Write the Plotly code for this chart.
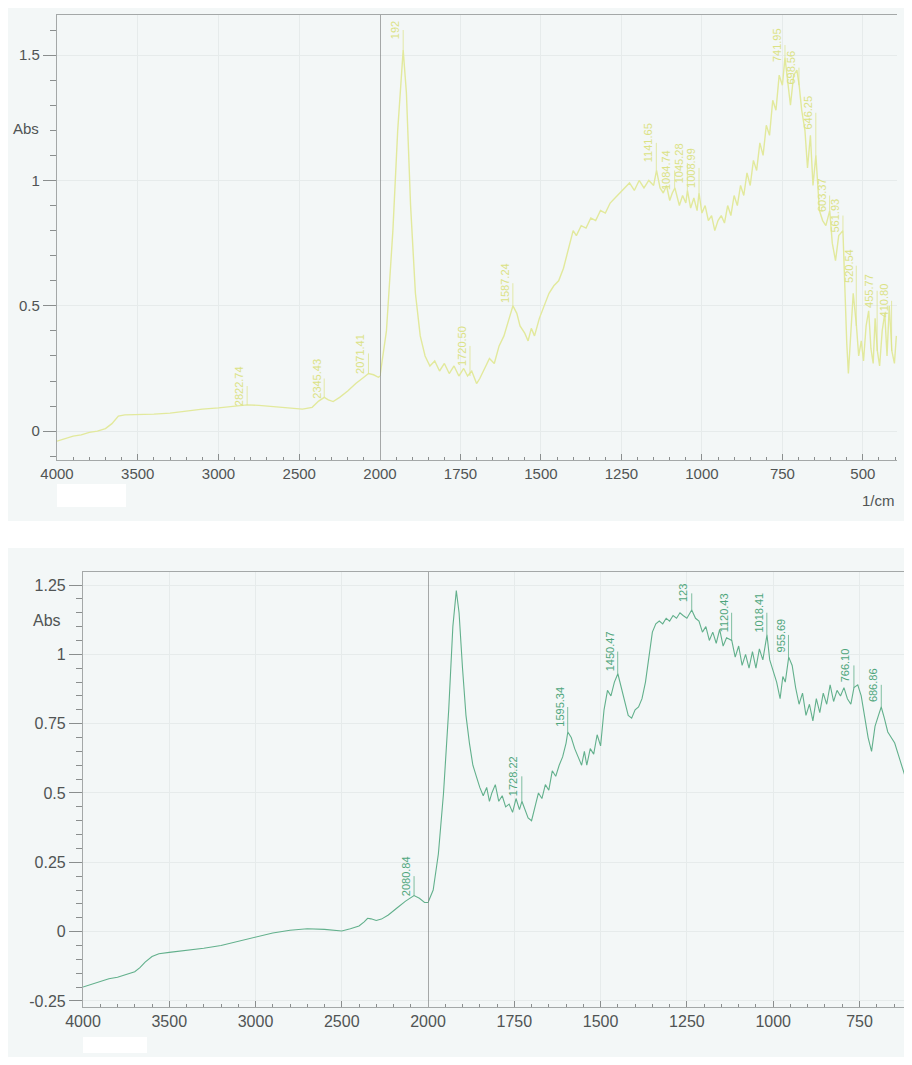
import plotly.graph_objects as go

# ---------------- data: upper spectrum (yellow) ----------------
top_wn = [4000, 3950, 3900, 3850, 3800, 3750, 3700, 3660, 3620, 3580, 3500, 3400, 3300, 3200, 3100, 3000,
          2900, 2822, 2750, 2650, 2550, 2480, 2420, 2380, 2345, 2320, 2290, 2250, 2200, 2150, 2100, 2071,
          2040, 2010, 2000, 1980, 1960, 1945, 1928, 1918, 1905, 1890, 1875, 1860, 1845, 1830, 1815, 1800,
          1785, 1770, 1755, 1740, 1728, 1715, 1700, 1690, 1675, 1660, 1645, 1630, 1615, 1600, 1587, 1575,
          1565, 1550, 1540, 1530, 1520, 1505, 1490, 1475, 1460, 1445, 1430, 1415, 1400, 1390, 1375, 1360,
          1345, 1330, 1315, 1300, 1285, 1270, 1255, 1240, 1225, 1210, 1195, 1180, 1165, 1150, 1141, 1130,
          1120, 1110, 1100, 1092, 1084, 1070, 1060, 1050, 1045, 1035, 1025, 1015, 1009, 1000, 990, 980,
          970, 960, 950, 940, 930, 920, 910, 900, 890, 880, 870, 860, 850, 840, 830, 820, 810, 800, 790,
          780, 770, 760, 750, 742, 735, 725, 715, 705, 698, 690, 680, 672, 663, 655, 646, 635, 625, 615,
          603, 595, 585, 575, 562, 556, 550, 545, 538, 530, 520, 513, 505, 498, 490, 482, 475, 468, 462,
          455, 448, 440, 432, 425, 418, 410, 402, 396]
top_abs = [-0.04, -0.03, -0.02, -0.015, -0.005, 0.0, 0.01, 0.03, 0.06, 0.065, 0.065, 0.068, 0.072, 0.08, 0.088, 0.093,
           0.1, 0.105, 0.103, 0.097, 0.09, 0.088, 0.095, 0.12, 0.135, 0.125, 0.118, 0.135, 0.16, 0.19, 0.215, 0.23,
           0.225, 0.215, 0.22, 0.4, 0.8, 1.2, 1.52, 1.35, 0.9, 0.55, 0.38, 0.3, 0.26, 0.28, 0.24, 0.27,
           0.23, 0.26, 0.22, 0.25, 0.22, 0.24, 0.19, 0.21, 0.25, 0.29, 0.27, 0.34, 0.38, 0.44, 0.5, 0.47,
           0.42, 0.39, 0.36, 0.41, 0.38, 0.45, 0.5, 0.55, 0.58, 0.6, 0.65, 0.72, 0.8, 0.78, 0.82, 0.81,
           0.85, 0.84, 0.88, 0.87, 0.91, 0.93, 0.95, 0.97, 0.99, 0.96, 1.0, 0.97, 1.0, 0.98, 1.04, 0.97,
           0.95, 0.98, 0.92, 0.95, 0.97, 0.9, 0.94, 0.91, 0.96, 0.89, 0.93, 0.88, 0.95, 0.87, 0.9, 0.84,
           0.86, 0.8, 0.84, 0.86, 0.83, 0.9, 0.86, 0.94, 0.9, 0.98, 0.94, 1.03, 0.98, 1.08, 1.04, 1.15, 1.1, 1.22, 1.18,
           1.32, 1.28, 1.42, 1.38, 1.49, 1.4, 1.3, 1.42, 1.44, 1.38, 1.28, 1.2, 1.05, 1.18, 0.98, 1.1, 0.88, 0.84, 0.82,
           0.88, 0.75, 0.68, 0.78, 0.8, 0.55, 0.35, 0.23, 0.4, 0.55, 0.42, 0.3, 0.36, 0.28, 0.42, 0.48, 0.33, 0.27, 0.45,
           0.32, 0.26, 0.4, 0.47, 0.3, 0.5, 0.32, 0.27, 0.38]

top_lbl_wn = [2822.74, 2345.43, 2071.41, 1928.0, 1720.50, 1587.24, 1141.65, 1084.74, 1045.28, 1008.99,
              741.95, 698.56, 646.25, 603.37, 561.93, 520.54, 455.77, 410.80]
top_lbl_text = ["2822.74", "2345.43", "2071.41", "192", "1720.50", "1587.24", "1141.65", "1084.74", "1045.28",
                "1008.99", "741.95", "698.56", "646.25", "603.37", "561.93", "520.54", "455.77", "410.80"]
top_lbl_peak = [0.105, 0.135, 0.23, 1.52, 0.22, 0.5, 1.04, 0.97, 0.96, 0.95,
                1.49, 1.38, 1.1, 0.88, 0.8, 0.42, 0.32, 0.32]
top_lbl_base = [0.18, 0.21, 0.31, 1.6, 0.34, 0.59, 1.15, 1.04, 1.07, 1.05,
                1.54, 1.45, 1.27, 0.94, 0.86, 0.66, 0.56, 0.52]

# ---------------- data: lower spectrum (green) ----------------
bot_wn = [4000, 3950, 3900, 3850, 3800, 3750, 3700, 3670, 3640, 3600, 3560, 3500, 3400, 3300, 3200, 3100,
          3000, 2900, 2800, 2700, 2600, 2500, 2450, 2400, 2370, 2350, 2330, 2300, 2270, 2230, 2180, 2130,
          2081, 2050, 2020, 2000, 1985, 1970, 1955, 1940, 1928, 1918, 1910, 1900, 1890, 1880, 1870, 1860,
          1850, 1840, 1830, 1822, 1815, 1805, 1795, 1785, 1775, 1765, 1755, 1745, 1735, 1728, 1720, 1710,
          1700, 1690, 1680, 1670, 1660, 1650, 1640, 1630, 1620, 1610, 1600, 1595, 1585, 1575, 1565, 1555,
          1547, 1540, 1530, 1520, 1510, 1500, 1490, 1480, 1470, 1460, 1450, 1440, 1430, 1420, 1410, 1400,
          1390, 1380, 1370, 1360, 1350, 1340, 1330, 1320, 1310, 1300, 1290, 1280, 1270, 1261, 1250, 1236,
          1225, 1215, 1205, 1195, 1185, 1175, 1165, 1155, 1145, 1135, 1120, 1110, 1100, 1090, 1080, 1070,
          1060, 1050, 1040, 1030, 1018, 1010, 1000, 990, 980, 972, 965, 955, 945, 935, 925, 915, 905, 895,
          885, 875, 865, 855, 845, 835, 825, 815, 805, 795, 785, 775, 766, 755, 745, 735, 725, 715, 705,
          695, 687, 678, 668, 658, 648, 638, 628, 618, 608, 598]
bot_abs = [-0.2, -0.19, -0.18, -0.17, -0.165, -0.155, -0.145, -0.13, -0.11, -0.09, -0.08, -0.075, -0.068, -0.06, -0.05, -0.035,
           -0.02, -0.005, 0.005, 0.01, 0.008, 0.002, 0.01, 0.02, 0.035, 0.048, 0.046, 0.04, 0.045, 0.06, 0.085, 0.11,
           0.13, 0.12, 0.105, 0.105, 0.15, 0.28, 0.5, 0.8, 1.1, 1.23, 1.15, 0.95, 0.78, 0.68, 0.6, 0.56,
           0.52, 0.49, 0.52, 0.47, 0.5, 0.53, 0.47, 0.49, 0.45, 0.46, 0.43, 0.48, 0.44, 0.47, 0.44, 0.41,
           0.4, 0.45, 0.5, 0.48, 0.53, 0.51, 0.58, 0.56, 0.6, 0.63, 0.68, 0.72, 0.7, 0.66, 0.63, 0.6,
           0.65, 0.6, 0.66, 0.64, 0.71, 0.67, 0.8, 0.87, 0.85, 0.9, 0.93, 0.88, 0.83, 0.78, 0.77, 0.8,
           0.81, 0.84, 0.9, 1.0, 1.08, 1.11, 1.12, 1.11, 1.13, 1.12, 1.14, 1.13, 1.15, 1.14, 1.13, 1.16,
           1.13, 1.12, 1.08, 1.1, 1.05, 1.08, 1.04, 1.09, 1.03, 1.06, 1.05, 0.99, 1.03, 0.96, 1.0, 0.95,
           1.01, 0.95, 1.02, 0.98, 1.07, 0.98, 0.94, 0.9, 0.84, 0.92, 0.9, 0.99, 0.96, 0.88, 0.82, 0.86, 0.78, 0.82,
           0.76, 0.84, 0.79, 0.86, 0.82, 0.89, 0.83, 0.87, 0.85, 0.88, 0.84, 0.82, 0.88, 0.89, 0.85, 0.78, 0.7, 0.65, 0.74,
           0.78, 0.81, 0.77, 0.72, 0.7, 0.68, 0.64, 0.6, 0.56, 0.6, 0.62]

bot_lbl_wn = [2080.84, 1728.22, 1595.34, 1450.47, 1236.0, 1120.43, 1018.41, 955.69, 766.10, 686.86]
bot_lbl_text = ["2080.84", "1728.22", "1595.34", "1450.47", "123", "1120.43", "1018.41", "955.69", "766.10", "686.86"]
bot_lbl_peak = [0.13, 0.47, 0.72, 0.93, 1.16, 1.05, 1.07, 0.99, 0.88, 0.81]
bot_lbl_base = [0.20, 0.56, 0.81, 1.01, 1.22, 1.15, 1.15, 1.07, 0.96, 0.89]

x_left_ticks = [4000, 3500, 3000, 2500, 2000]
x_right_ticks_top = [1750, 1500, 1250, 1000, 750, 500]
x_right_ticks_bot = [1750, 1500, 1250, 1000, 750]
y_ticks_top = [0, 0.5, 1, 1.5]
y_text_top = ["0", "0.5", "1", "1.5"]
y_ticks_bot = [-0.25, 0, 0.25, 0.5, 0.75, 1, 1.25]
y_text_bot = ["-0.25", "0", "0.25", "0.5", "0.75", "1", "1.25"]

# ---------------- figure ----------------
PAGE_W, PAGE_H = 912, 1065
OFF = 8  # browser body margin
W, H = PAGE_W - 2 * OFF, PAGE_H - 2 * OFF
TOP_COLOR = "#e2e99c"
TOP_LBL = "#dbe285"
BOT_COLOR = "#62b08c"
BOT_LBL = "#4fa67c"
BG = "#f3f7f7"
FRAME = "#a4a8a8"
TICKC = "#8a8e8e"
TXT = "#505454"
FONT = "Liberation Sans, Arial, sans-serif"


def px(x):
    return (x - OFF) / W


def py(y):
    return 1 - (y - OFF) / H


def split(wn, ab):
    left = [(w, a) for w, a in zip(wn, ab) if w >= 2000]
    right = [(w, a) for w, a in zip(wn, ab) if w <= 2000]
    return left, right


fig = go.Figure()

tl, tr = split(top_wn, top_abs)
bl, br = split(bot_wn, bot_abs)
fig.add_trace(go.Scatter(x=[p[0] for p in tl], y=[p[1] for p in tl], xaxis="x", yaxis="y",
                         mode="lines", line=dict(color=TOP_COLOR, width=1.4), showlegend=False))
fig.add_trace(go.Scatter(x=[p[0] for p in tr], y=[p[1] for p in tr], xaxis="x2", yaxis="y",
                         mode="lines", line=dict(color=TOP_COLOR, width=1.4), showlegend=False))
fig.add_trace(go.Scatter(x=[p[0] for p in bl], y=[p[1] for p in bl], xaxis="x3", yaxis="y2",
                         mode="lines", line=dict(color=BOT_COLOR, width=1.1), showlegend=False))
fig.add_trace(go.Scatter(x=[p[0] for p in br], y=[p[1] for p in br], xaxis="x4", yaxis="y2",
                         mode="lines", line=dict(color=BOT_COLOR, width=1.1), showlegend=False))

grid = "#e6ebeb"


def xax(dom, rng, ticks, anchor, dminor, fs):
    return dict(domain=dom, range=rng, anchor=anchor, tickvals=ticks, ticktext=[str(t) for t in ticks],
                showgrid=True, gridcolor=grid, gridwidth=1, zeroline=False, automargin=False,
                showline=True, linecolor=FRAME, linewidth=1.2, mirror=True,
                ticks="inside", ticklen=6, tickcolor=TICKC,
                tickfont=dict(family=FONT, size=fs, color=TXT),
                minor=dict(ticks="inside", ticklen=3, dtick=dminor, tick0=0, tickcolor=TICKC, showgrid=False))


def yax(dom, rng, ticks, text, anchor, dminor, fs):
    return dict(domain=dom, range=rng, anchor=anchor, tickvals=ticks, ticktext=text,
                showgrid=True, gridcolor=grid, gridwidth=1, zeroline=False, automargin=False,
                showline=True, linecolor=FRAME, linewidth=1.2,
                ticks="outside", ticklen=13, tickcolor=TICKC,
                tickfont=dict(family=FONT, size=fs, color=TXT),
                minor=dict(ticks="outside", ticklen=6, dtick=dminor, tick0=0, tickcolor=TICKC, showgrid=False))


fig.update_layout(
    width=W, height=H, margin=dict(l=0, r=0, t=0, b=0, autoexpand=False),
    paper_bgcolor=BG, plot_bgcolor=BG,
    xaxis=xax([px(57), px(380)], [4000, 2000], x_left_ticks, "y", 100, 15),
    xaxis2=xax([px(380), px(897)], [2000, 394], x_right_ticks_top, "y", 50, 15),
    xaxis3=xax([px(83), px(428)], [4000, 2000], x_left_ticks, "y2", 100, 16),
    xaxis4=xax([px(428), 1.0], [2000, 2000 - (904 - 428) * 2.897], x_right_ticks_bot, "y2", 50, 16),
    yaxis=yax([py(460), py(15)], [-0.115, 1.66], y_ticks_top, y_text_top, "x", 0.1, 15),
    yaxis2=yax([py(1007), py(572)], [-0.272, 1.297], y_ticks_bot, y_text_bot, "x3", 0.05, 16),
)

shapes = [
    # white band between the two scans
    dict(type="rect", xref="paper", yref="paper", x0=0, x1=1, y0=py(548), y1=py(521),
         fillcolor="white", line=dict(width=0), layer="below"),
    # junction lines at 2000 1/cm
    dict(type="line", xref="x2", yref="y domain", x0=2000, x1=2000, y0=0, y1=1,
         line=dict(color="#7a7e7e", width=1.3)),
    dict(type="line", xref="x4", yref="y2 domain", x0=2000, x1=2000, y0=0, y1=1,
         line=dict(color="#7a7e7e", width=1.3)),
    # white patches under the axes
    dict(type="rect", xref="paper", yref="paper", x0=px(57), x1=px(126), y0=py(507), y1=py(484),
         fillcolor="white", line=dict(width=0)),
    dict(type="rect", xref="paper", yref="paper", x0=px(83), x1=px(147), y0=py(1053), y1=py(1037),
         fillcolor="white", line=dict(width=0)),
]
fig.update_layout(shapes=shapes)

annotations = [
    dict(text="Abs", xref="paper", yref="paper", x=px(41), y=py(118), xanchor="right", showarrow=False,
         font=dict(family=FONT, size=15, color=TXT)),
    dict(text="Abs", xref="paper", yref="paper", x=px(63), y=py(620), xanchor="right", showarrow=False,
         font=dict(family=FONT, size=16, color=TXT)),
    dict(text="1/cm", xref="paper", yref="paper", x=px(897), y=py(500), xanchor="right", showarrow=False,
         font=dict(family=FONT, size=15, color=TXT)),
]


def peak_labels(wns, texts, peaks, bases, xl, xr, yref, color):
    out = []
    for w, t, p, b in zip(wns, texts, peaks, bases):
        xr_ = xl if w >= 2000 else xr
        out.append(dict(x=w, y=p, ax=w, ay=b, xref=xr_, yref=yref, axref=xr_, ayref=yref,
                        showarrow=True, arrowhead=0, arrowwidth=0.7, arrowcolor=color,
                        text=t, textangle=-90, yanchor="bottom", xanchor="center",
                        font=dict(family=FONT, size=11, color=color)))
    return out


annotations += peak_labels(top_lbl_wn, top_lbl_text, top_lbl_peak, top_lbl_base, "x", "x2", "y", TOP_LBL)
annotations += peak_labels(bot_lbl_wn, bot_lbl_text, bot_lbl_peak, bot_lbl_base, "x3", "x4", "y2", BOT_LBL)
fig.update_layout(annotations=annotations)

fig.write_html("out.html")
